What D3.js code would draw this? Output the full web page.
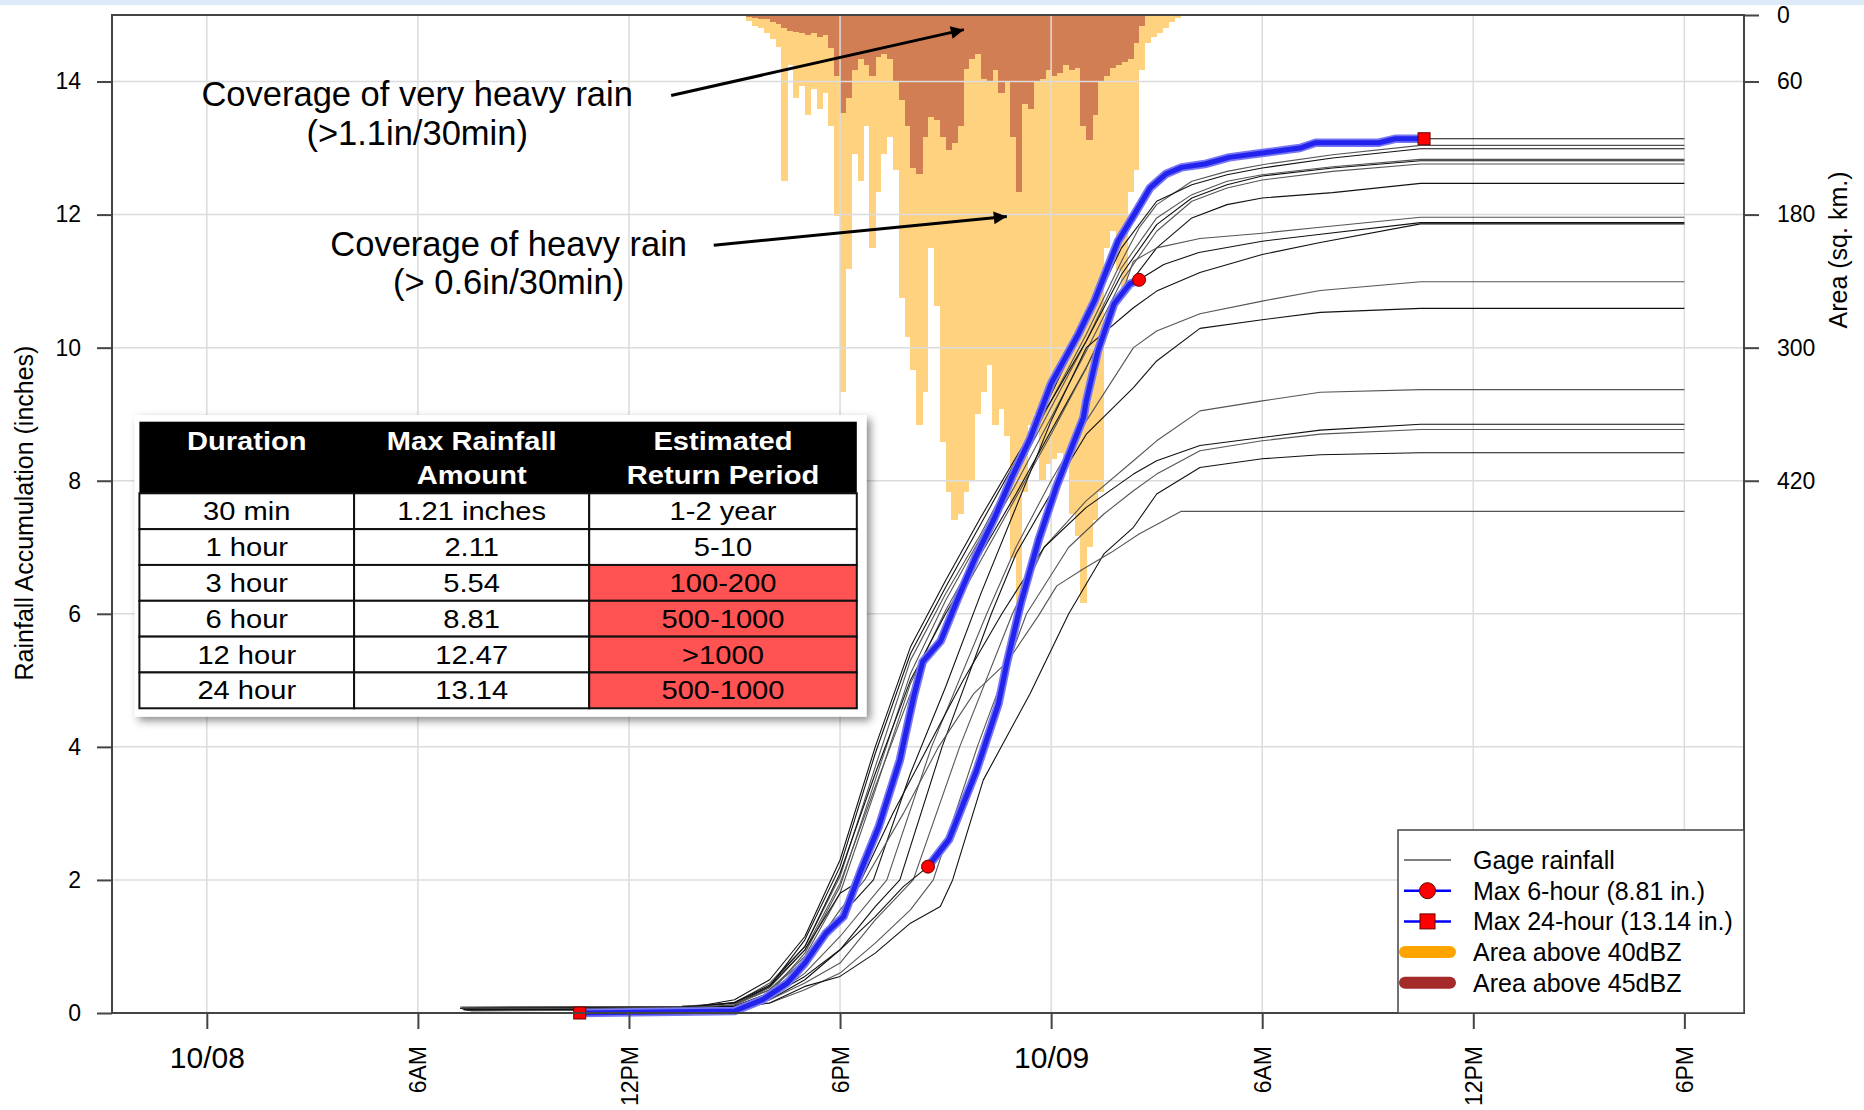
<!DOCTYPE html>
<html>
<head>
<meta charset="utf-8">
<script src="https://cdn.jsdelivr.net/npm/d3@7"></script>
<style>
  html, body { margin: 0; padding: 0; background: #fff; }
  svg { display: block; font-family: "Liberation Sans", Arial, sans-serif; }
</style>
</head>
<body>
<div id="chart"></div>
<script>
// hours are counted from 10/08 00:00
const xDomainHours = [-2.695, 43.695];
const xTickHours = [0, 6, 12, 18, 24, 30, 36, 42];
const xTickLabels = ["10/08", "6AM", "12PM", "6PM", "10/09", "6AM", "12PM", "6PM"];
const yTicks = [0, 2, 4, 6, 8, 10, 12, 14];
const areaTicks = [0, 60, 180, 300, 420];

// radar coverage, 10-minute bins starting 15:20 on 10/08 (sq. km.)
const radarStartHour = 15 + 20 / 60;
const radarStepMin = 10;
const area40 = [5, 10, 12, 16, 22, 29, 150, 45, 75, 64, 90, 67, 85, 70, 100, 181, 340, 229, 125, 150,
  100, 210, 160, 125, 110, 140, 255, 290, 320, 370, 340, 210, 262, 385, 430, 455, 450, 430, 420, 360,
  340, 316, 370, 355, 380, 490, 530, 430, 370, 360, 420, 405, 400, 395, 400, 450, 470, 530, 480, 455,
  430, 210, 195, 230, 250, 160, 140, 50, 25, 20, 16, 12, 6, 3];
const area45 = [2, 3, 4, 4, 6, 8, 12, 14, 15, 16, 18, 16, 20, 18, 30, 55, 88, 75, 50, 40,
  45, 55, 38, 35, 40, 60, 77, 100, 138, 143, 110, 92, 95, 110, 122, 115, 100, 49, 40, 35,
  58, 60, 50, 70, 60, 110, 160, 80, 85, 60, 58, 50, 55, 52, 45, 50, 48, 100, 113, 90,
  60, 55, 48, 45, 42, 40, 25, 10, 0, 0, 0, 0, 0, 0];

// gage with the max 24-hour total: [hour, cumulative inches]
const gageMax24 = [[7.3, 0], [10.6, 0], [15.0, 0.03], [15.8, 0.2], [16.5, 0.45], [17.0, 0.75], [17.6, 1.2],
  [18.1, 1.45], [18.6, 2.15], [19.1, 2.8], [19.7, 3.8], [20.1, 4.77], [20.35, 5.28], [20.86, 5.59],
  [21.35, 6.23], [21.86, 6.86], [22.38, 7.43], [22.89, 8.06], [23.4, 8.63], [23.77, 9.14], [24.0, 9.46],
  [24.78, 10.21], [25.23, 10.7], [25.9, 11.6], [26.36, 12.0], [26.81, 12.4], [27.26, 12.61], [27.71, 12.71],
  [28.37, 12.76], [29.06, 12.86], [30.05, 12.93], [31.07, 13.0], [31.52, 13.08], [33.32, 13.08],
  [33.78, 13.14], [34.6, 13.14], [42, 13.14]];
// gage with the max 6-hour total
const gageMax6 = [[7.3, 0.05], [13.5, 0.06], [15, 0.1], [16, 0.25], [17, 0.55], [18, 0.95], [19, 1.45],
  [19.8, 1.9], [20.5, 2.2], [21.1, 2.61], [21.87, 3.63], [22.5, 4.64], [22.75, 5.28], [23.14, 6.16],
  [23.65, 7.12], [24.17, 7.94], [24.54, 8.44], [24.92, 8.95], [25.0, 9.2], [25.33, 9.95], [25.79, 10.66],
  [26.24, 10.96], [26.5, 11.02], [27.2, 11.25], [28.2, 11.43], [30, 11.6], [31.6, 11.7], [34.5, 11.88], [42, 11.88]];
const otherGages = [
  [[7.25, 0.08], [13.5, 0.1], [15, 0.15], [16, 0.45], [17, 1.0], [18, 2.05], [19, 3.7], [20, 5.3], [21, 6.3], [22, 7.2], [23, 8.2], [24, 9.2], [25, 10.2], [26, 11.3], [26.5, 11.8], [27, 12.15], [28, 12.5], [29, 12.65], [30, 12.75], [32, 12.9], [34.5, 13.04], [42, 13.04]],
  [[7.4, 0.05], [13.5, 0.07], [15, 0.12], [16, 0.4], [17, 1.1], [18, 2.2], [19, 3.9], [20, 5.4], [21, 6.4], [22, 7.35], [23, 8.3], [24, 9.3], [25, 10.4], [26, 11.5], [27, 12.2], [28, 12.45], [29, 12.6], [30, 12.7], [32, 12.85], [34.5, 12.99], [42, 12.99]],
  [[7.3, 0.06], [13.5, 0.08], [15, 0.1], [16, 0.3], [17, 0.9], [18, 1.9], [19, 3.5], [20, 5.1], [21, 6.2], [22, 7.15], [23, 8.1], [24, 9.1], [25, 10.1], [26, 11.2], [27, 11.95], [28, 12.3], [29, 12.5], [30, 12.6], [32, 12.72], [34.5, 12.83], [42, 12.83]],
  [[7.5, 0.04], [13.5, 0.06], [15, 0.2], [16, 0.5], [17, 1.15], [18, 2.3], [19, 4.0], [20, 5.5], [21, 6.5], [22, 7.45], [23, 8.35], [24, 9.2], [25, 10.1], [26, 11.1], [27, 11.85], [28, 12.25], [29, 12.45], [30, 12.58], [32, 12.7], [34.5, 12.81], [42, 12.81]],
  [[7.2, 0.09], [13.5, 0.1], [15, 0.14], [16, 0.35], [17, 0.85], [18, 1.8], [19, 3.35], [20, 4.95], [21, 6.05], [22, 7.0], [23, 7.95], [24, 8.95], [25, 9.95], [26, 11.0], [27, 11.75], [28, 12.2], [29, 12.4], [30, 12.52], [32, 12.65], [34.5, 12.76], [42, 12.76]],
  [[7.35, 0.05], [13.5, 0.07], [15, 0.16], [16, 0.42], [17, 1.0], [18, 2.1], [19, 3.6], [20, 5.0], [21, 6.0], [22, 6.9], [23, 7.8], [24, 8.75], [25, 9.7], [26, 10.8], [27, 11.5], [28, 11.95], [29, 12.15], [30, 12.25], [32, 12.33], [34.5, 12.47], [42, 12.47]],
  [[7.4, 0.04], [13.5, 0.05], [15, 0.12], [16, 0.38], [17, 0.95], [18, 1.95], [19, 3.4], [20, 4.8], [21, 5.85], [22, 6.8], [23, 7.75], [24, 8.7], [25, 9.7], [26, 10.8], [26.34, 11.3], [27, 11.5], [28.23, 11.64], [30, 11.72], [31.65, 11.81], [34.5, 11.96], [42, 11.96]],
  [[7.3, 0.05], [13.5, 0.06], [15, 0.1], [16, 0.3], [17, 0.75], [18, 1.45], [18.95, 2.0], [20, 3.6], [21, 4.9], [22, 6.3], [23, 7.6], [24, 8.9], [25, 10.0], [26.34, 10.6], [27, 10.85], [28.23, 11.13], [30, 11.4], [31.65, 11.58], [34.5, 11.86], [42, 11.86]],
  [[7.45, 0.04], [13.5, 0.05], [15, 0.08], [16, 0.22], [17, 0.6], [18, 1.15], [19.33, 2.0], [20.6, 4.0], [22.17, 6.0], [23, 7.0], [24, 8.0], [25, 8.9], [26.34, 10.0], [27, 10.25], [28.23, 10.51], [30, 10.7], [31.65, 10.86], [34.5, 10.99], [42, 10.99]],
  [[7.3, 0.06], [13.5, 0.07], [15, 0.1], [16, 0.2], [17, 0.5], [18, 0.95], [19, 1.6], [19.7, 2.0], [20.9, 4.0], [22.3, 6.0], [23, 6.9], [24.2, 8.0], [25, 8.7], [26.34, 9.4], [27, 9.8], [28.23, 10.29], [30, 10.42], [31.65, 10.53], [34.5, 10.59], [42, 10.59]],
  [[7.5, 0.03], [13.5, 0.05], [15, 0.09], [16, 0.2], [17, 0.45], [18, 0.75], [19, 1.4], [20.08, 2.0], [21.4, 4.0], [22.9, 6.0], [23.8, 7.0], [25, 7.7], [26.34, 8.3], [27, 8.6], [28.23, 9.05], [30, 9.2], [31.65, 9.33], [34.5, 9.37], [42, 9.37]],
  [[7.2, 0.07], [13.5, 0.09], [15, 0.15], [16, 0.4], [17, 0.95], [18, 1.8], [18.6, 2.0], [19.5, 3.0], [20.5, 4.0], [21.5, 5.0], [22.6, 6.0], [23.8, 7.0], [25, 7.6], [26.34, 8.1], [27, 8.3], [28.23, 8.53], [30, 8.65], [31.65, 8.76], [34.5, 8.85], [42, 8.85]],
  [[7.35, 0.05], [13.5, 0.06], [15, 0.08], [16, 0.15], [17, 0.35], [18, 0.6], [19, 1.05], [20, 1.55], [20.65, 2.0], [21.9, 4.0], [23.3, 6.0], [24.5, 7.0], [25.5, 7.5], [26.34, 7.85], [27, 8.1], [28.23, 8.45], [30, 8.6], [31.65, 8.7], [34.5, 8.77], [42, 8.77]],
  [[7.4, 0.05], [13.5, 0.06], [15, 0.08], [16, 0.15], [17, 0.4], [18, 0.55], [19, 0.9], [20, 1.35], [20.85, 1.6], [21.2, 2.0], [22.07, 3.5], [23.4, 4.8], [24.5, 6.0], [25.5, 6.9], [26.34, 7.3], [27, 7.8], [28.23, 8.2], [30, 8.33], [31.65, 8.39], [34.5, 8.42], [42, 8.42]],
  [[7.25, 0.06], [13.5, 0.08], [15, 0.12], [16, 0.35], [17, 0.8], [18, 1.55], [18.7, 2.0], [19.8, 3.0], [20.8, 4.0], [21.8, 4.8], [22.76, 5.28], [23.65, 5.98], [24.16, 6.42], [24.9, 6.67], [25.7, 6.92], [26.5, 7.2], [27.7, 7.54], [42, 7.54]]
];
const max6Window = [20.5, 26.5];
const max24Window = [10.6, 34.6];

const tableHeader = [["Duration"], ["Max Rainfall", "Amount"], ["Estimated", "Return Period"]];
const tableDuration = ["30 min", "1 hour", "3 hour", "6 hour", "12 hour", "24 hour"];
const tableAmount = ["1.21 inches", "2.11", "5.54", "8.81", "12.47", "13.14"];
const tablePeriod = ["1-2 year", "5-10", "100-200", "500-1000", ">1000", "500-1000"];
const tableHighlight = [false, false, true, true, true, true];

const legendLabels = ["Gage rainfall", "Max 6-hour (8.81 in.)", "Max 24-hour (13.14 in.)", "Area above 40dBZ", "Area above 45dBZ"];

const W = 1864, H = 1110;
const margin = { top: 15, right: 120, bottom: 97, left: 112 };
const pLeft = margin.left, pRight = W - margin.right, pTop = margin.top, pBottom = H - margin.bottom;

const baseDate = new Date(2016, 9, 8, 0, 0);
const toDate = h => new Date(baseDate.getTime() + h * 3600e3);

const svg = d3.select('#chart')
    .append('svg')
    .attr('width', W)
    .attr('height', H);

const defs = svg.append('defs');
const shadow = defs.append('filter').attr('id', 'shadow')
    .attr('x', '-5%').attr('y', '-5%').attr('width', '115%').attr('height', '120%');
shadow.append('feDropShadow')
    .attr('dx', 4).attr('dy', 4).attr('stdDeviation', 4)
    .attr('flood-color', '#000').attr('flood-opacity', 0.45);
defs.append('marker').attr('id', 'arrow')
    .attr('viewBox', '0 0 10 10').attr('refX', 10).attr('refY', 5)
    .attr('markerWidth', 18).attr('markerHeight', 13)
    .attr('markerUnits', 'userSpaceOnUse').attr('orient', 'auto')
    .append('path').attr('d', 'M0,0 L10,5 L0,10 z').attr('fill', '#000');

svg.append('rect').attr('width', W).attr('height', 5).attr('fill', '#dcebf7');

const x = d3.scaleTime()
    .domain(xDomainHours.map(toDate))
    .range([pLeft, pRight]);
const y = d3.scaleLinear().domain([0, 15]).range([pBottom, pTop]);
const yArea = d3.scaleLinear().domain([0, 900]).range([pTop, pBottom]);
const xh = h => x(toDate(h));

// radar coverage bars hanging from the top
const binX = i => xh(radarStartHour + i * radarStepMin / 60);
function drawBars(values, color) {
    svg.append('g')
        .attr('shape-rendering', 'crispEdges')
        .selectAll('rect')
        .data(values)
        .join('rect')
        .attr('x', (d, i) => binX(i))
        .attr('width', (d, i) => binX(i + 1) - binX(i) + 0.4)
        .attr('y', yArea(0))
        .attr('height', d => yArea(d) - yArea(0))
        .attr('fill', color);
}
drawBars(area40, '#ffd280');
drawBars(area45, '#d27e55');

// grid
const grid = svg.append('g').attr('stroke', '#dcdcdc').attr('stroke-width', 1.5);
grid.selectAll('.gx').data(xTickHours).join('line')
    .attr('x1', d => xh(d)).attr('x2', d => xh(d))
    .attr('y1', pTop).attr('y2', pBottom);
grid.selectAll('.gy').data(yTicks.filter(d => d > 0)).join('line')
    .attr('x1', pLeft).attr('x2', pRight)
    .attr('y1', d => y(d)).attr('y2', d => y(d));

// gage lines
const line = d3.line()
    .x(d => xh(d[0]))
    .y(d => y(d[1]));

const allGages = [gageMax24, ...otherGages, gageMax6];
svg.append('g')
    .selectAll('path')
    .data(allGages)
    .join('path')
    .attr('fill', 'none')
    .attr('stroke', (d, i) => i % 2 ? '#555' : '#111')
    .attr('stroke-width', 1.1)
    .attr('stroke-linejoin', 'round')
    .attr('d', line);

function valueAt(s, t) {
    const i = d3.bisector(d => d[0]).left(s, t);
    if (i <= 0) return s[0][1];
    if (i >= s.length) return s[s.length - 1][1];
    const a = s[i - 1], b = s[i];
    return a[1] + (b[1] - a[1]) * (t - a[0]) / (b[0] - a[0]);
}
function clip(s, t0, t1) {
    return [[t0, valueAt(s, t0)], ...s.filter(d => d[0] > t0 && d[0] < t1), [t1, valueAt(s, t1)]];
}

const blue24 = clip(gageMax24, max24Window[0], max24Window[1]);
const blue6 = clip(gageMax6, max6Window[0], max6Window[1]);
[blue24, blue6].forEach(seg => {
    svg.append('path').datum(seg)
        .attr('fill', 'none').attr('stroke', '#7777f4').attr('stroke-width', 8.5)
        .attr('stroke-linejoin', 'round').attr('stroke-linecap', 'round')
        .attr('d', line);
    svg.append('path').datum(seg)
        .attr('fill', 'none').attr('stroke', '#2323ee').attr('stroke-width', 5)
        .attr('stroke-linejoin', 'round').attr('stroke-linecap', 'round')
        .attr('d', line);
});

// markers
svg.append('g').selectAll('rect')
    .data([blue24[0], blue24[blue24.length - 1]])
    .join('rect')
    .attr('x', d => xh(d[0]) - 6).attr('y', d => y(d[1]) - 6)
    .attr('width', 12).attr('height', 12)
    .attr('fill', '#ff0000').attr('stroke', '#600').attr('stroke-width', 1);
svg.append('g').selectAll('circle')
    .data([blue6[0], blue6[blue6.length - 1]])
    .join('circle')
    .attr('cx', d => xh(d[0])).attr('cy', d => y(d[1])).attr('r', 6.5)
    .attr('fill', '#ff0000').attr('stroke', '#600').attr('stroke-width', 1);

// annotations
const notes = svg.append('g').attr('font-size', '34.5px').attr('text-anchor', 'middle').attr('fill', '#000');
notes.append('text').attr('x', xh(5.98)).attr('y', y(13.63)).text('Coverage of very heavy rain');
notes.append('text').attr('x', xh(5.98)).attr('y', y(13.05)).text('(>1.1in/30min)');
notes.append('text').attr('x', xh(8.58)).attr('y', y(11.38)).text('Coverage of heavy rain');
notes.append('text').attr('x', xh(8.58)).attr('y', y(10.81)).text('(> 0.6in/30min)');
svg.append('line')
    .attr('x1', xh(13.2)).attr('y1', y(13.79)).attr('x2', xh(21.52)).attr('y2', y(14.78))
    .attr('stroke', '#000').attr('stroke-width', 3).attr('marker-end', 'url(#arrow)');
svg.append('line')
    .attr('x1', xh(14.41)).attr('y1', y(11.54)).attr('x2', xh(22.74)).attr('y2', y(11.97))
    .attr('stroke', '#000').attr('stroke-width', 3).attr('marker-end', 'url(#arrow)');

// inset table
const colX = [139.4, 354.1, 589.2, 856.8];
const headTop = 421.7, headBottom = 493.3, rowH = 35.83;
const table = svg.append('g');
table.append('rect').attr('x', 134.5).attr('y', 415).attr('width', 732).attr('height', 301.7)
    .attr('fill', '#fff').attr('filter', 'url(#shadow)');
table.append('rect').attr('x', colX[0]).attr('y', headTop)
    .attr('width', colX[3] - colX[0]).attr('height', headBottom - headTop).attr('fill', '#000');
tableHeader.forEach((lines, c) => {
    const cx = (colX[c] + colX[c + 1]) / 2;
    lines.forEach((t, k) => {
        table.append('text')
            .attr('transform', `translate(${cx},${450 + k * 34}) scale(1.12,1)`)
            .attr('text-anchor', 'middle').attr('font-size', '26px').attr('font-weight', 'bold')
            .attr('fill', '#fff').text(t);
    });
});
const columns = [tableDuration, tableAmount, tablePeriod];
tableDuration.forEach((d, r) => {
    const ry = headBottom + r * rowH;
    columns.forEach((col, c) => {
        table.append('rect')
            .attr('x', colX[c]).attr('y', ry)
            .attr('width', colX[c + 1] - colX[c]).attr('height', rowH)
            .attr('fill', c === 2 && tableHighlight[r] ? '#ff5252' : '#fff')
            .attr('stroke', '#111').attr('stroke-width', 2);
        table.append('text')
            .attr('transform', `translate(${(colX[c] + colX[c + 1]) / 2},${ry + 27}) scale(1.12,1)`)
            .attr('text-anchor', 'middle').attr('font-size', '26px')
            .attr('fill', '#000').text(col[r]);
    });
});

// axes
const leftAxis = svg.append('g')
    .attr('transform', `translate(${pLeft},0)`)
    .call(d3.axisLeft(y).tickValues(yTicks).tickSize(15).tickPadding(16));
const rightAxis = svg.append('g')
    .attr('transform', `translate(${pRight},0)`)
    .call(d3.axisRight(yArea).tickValues(areaTicks).tickSize(15).tickPadding(18));
const bottomAxis = svg.append('g')
    .attr('transform', `translate(0,${pBottom})`)
    .call(d3.axisBottom(x).tickValues(xTickHours.map(toDate)).tickSize(16)
        .tickFormat((d, i) => xTickLabels[i]));

[leftAxis, rightAxis, bottomAxis].forEach(g => {
    g.select('.domain').remove();
    g.selectAll('.tick line').attr('stroke', '#444').attr('stroke-width', 2);
    g.selectAll('.tick text').attr('fill', '#000').attr('font-size', '23px')
        .attr('font-family', '"Liberation Sans", Arial, sans-serif');
});

bottomAxis.selectAll('.tick text').each(function (d, i) {
    const t = d3.select(this);
    if (xTickHours[i] % 24 === 0) {
        t.attr('font-size', '30px').attr('y', 55).attr('dy', null);
    } else {
        t.attr('transform', 'rotate(-90)')
            .attr('text-anchor', 'end')
            .attr('x', -33).attr('y', 0).attr('dy', '0.35em');
    }
});

svg.append('rect')
    .attr('x', pLeft).attr('y', pTop)
    .attr('width', pRight - pLeft).attr('height', pBottom - pTop)
    .attr('fill', 'none').attr('stroke', '#444').attr('stroke-width', 2);

svg.append('text')
    .attr('transform', `translate(24,${(pTop + pBottom) / 2 - 1}) rotate(-90)`)
    .attr('text-anchor', 'middle').attr('dy', '0.35em').attr('font-size', '25px')
    .text('Rainfall Accumulation (inches)');
svg.append('text')
    .attr('transform', `translate(1838,250) rotate(-90)`)
    .attr('text-anchor', 'middle').attr('dy', '0.35em').attr('font-size', '25px')
    .text('Area (sq. km.)');

// legend
const lg = svg.append('g');
lg.append('rect').attr('x', 1398).attr('y', 830).attr('width', pRight - 1398).attr('height', pBottom - 830)
    .attr('fill', '#fff').attr('stroke', '#444').attr('stroke-width', 1.5);
const rowY = i => 860 + i * 30.7;
lg.append('line').attr('x1', 1404).attr('x2', 1451).attr('y1', rowY(0)).attr('y2', rowY(0))
    .attr('stroke', '#555').attr('stroke-width', 1.5);
[1, 2].forEach(i => {
    lg.append('line').attr('x1', 1404).attr('x2', 1451).attr('y1', rowY(i)).attr('y2', rowY(i))
        .attr('stroke', '#0000ff').attr('stroke-width', 2.5);
});
lg.append('circle').attr('cx', 1427.5).attr('cy', rowY(1)).attr('r', 8)
    .attr('fill', '#ff0000').attr('stroke', '#600').attr('stroke-width', 1);
lg.append('rect').attr('x', 1420).attr('y', rowY(2) - 7.5).attr('width', 15).attr('height', 15)
    .attr('fill', '#ff0000').attr('stroke', '#600').attr('stroke-width', 1);
[['#ffa500', 3], ['#a52a2a', 4]].forEach(([c, i]) => {
    lg.append('line').attr('x1', 1405).attr('x2', 1450).attr('y1', rowY(i)).attr('y2', rowY(i))
        .attr('stroke', c).attr('stroke-width', 12).attr('stroke-linecap', 'round');
});
lg.selectAll('.lt').data(legendLabels).join('text')
    .attr('x', 1473).attr('y', (d, i) => rowY(i) + 9)
    .attr('font-size', '25px').attr('fill', '#000')
    .text(d => d);
</script>
</body>
</html>
